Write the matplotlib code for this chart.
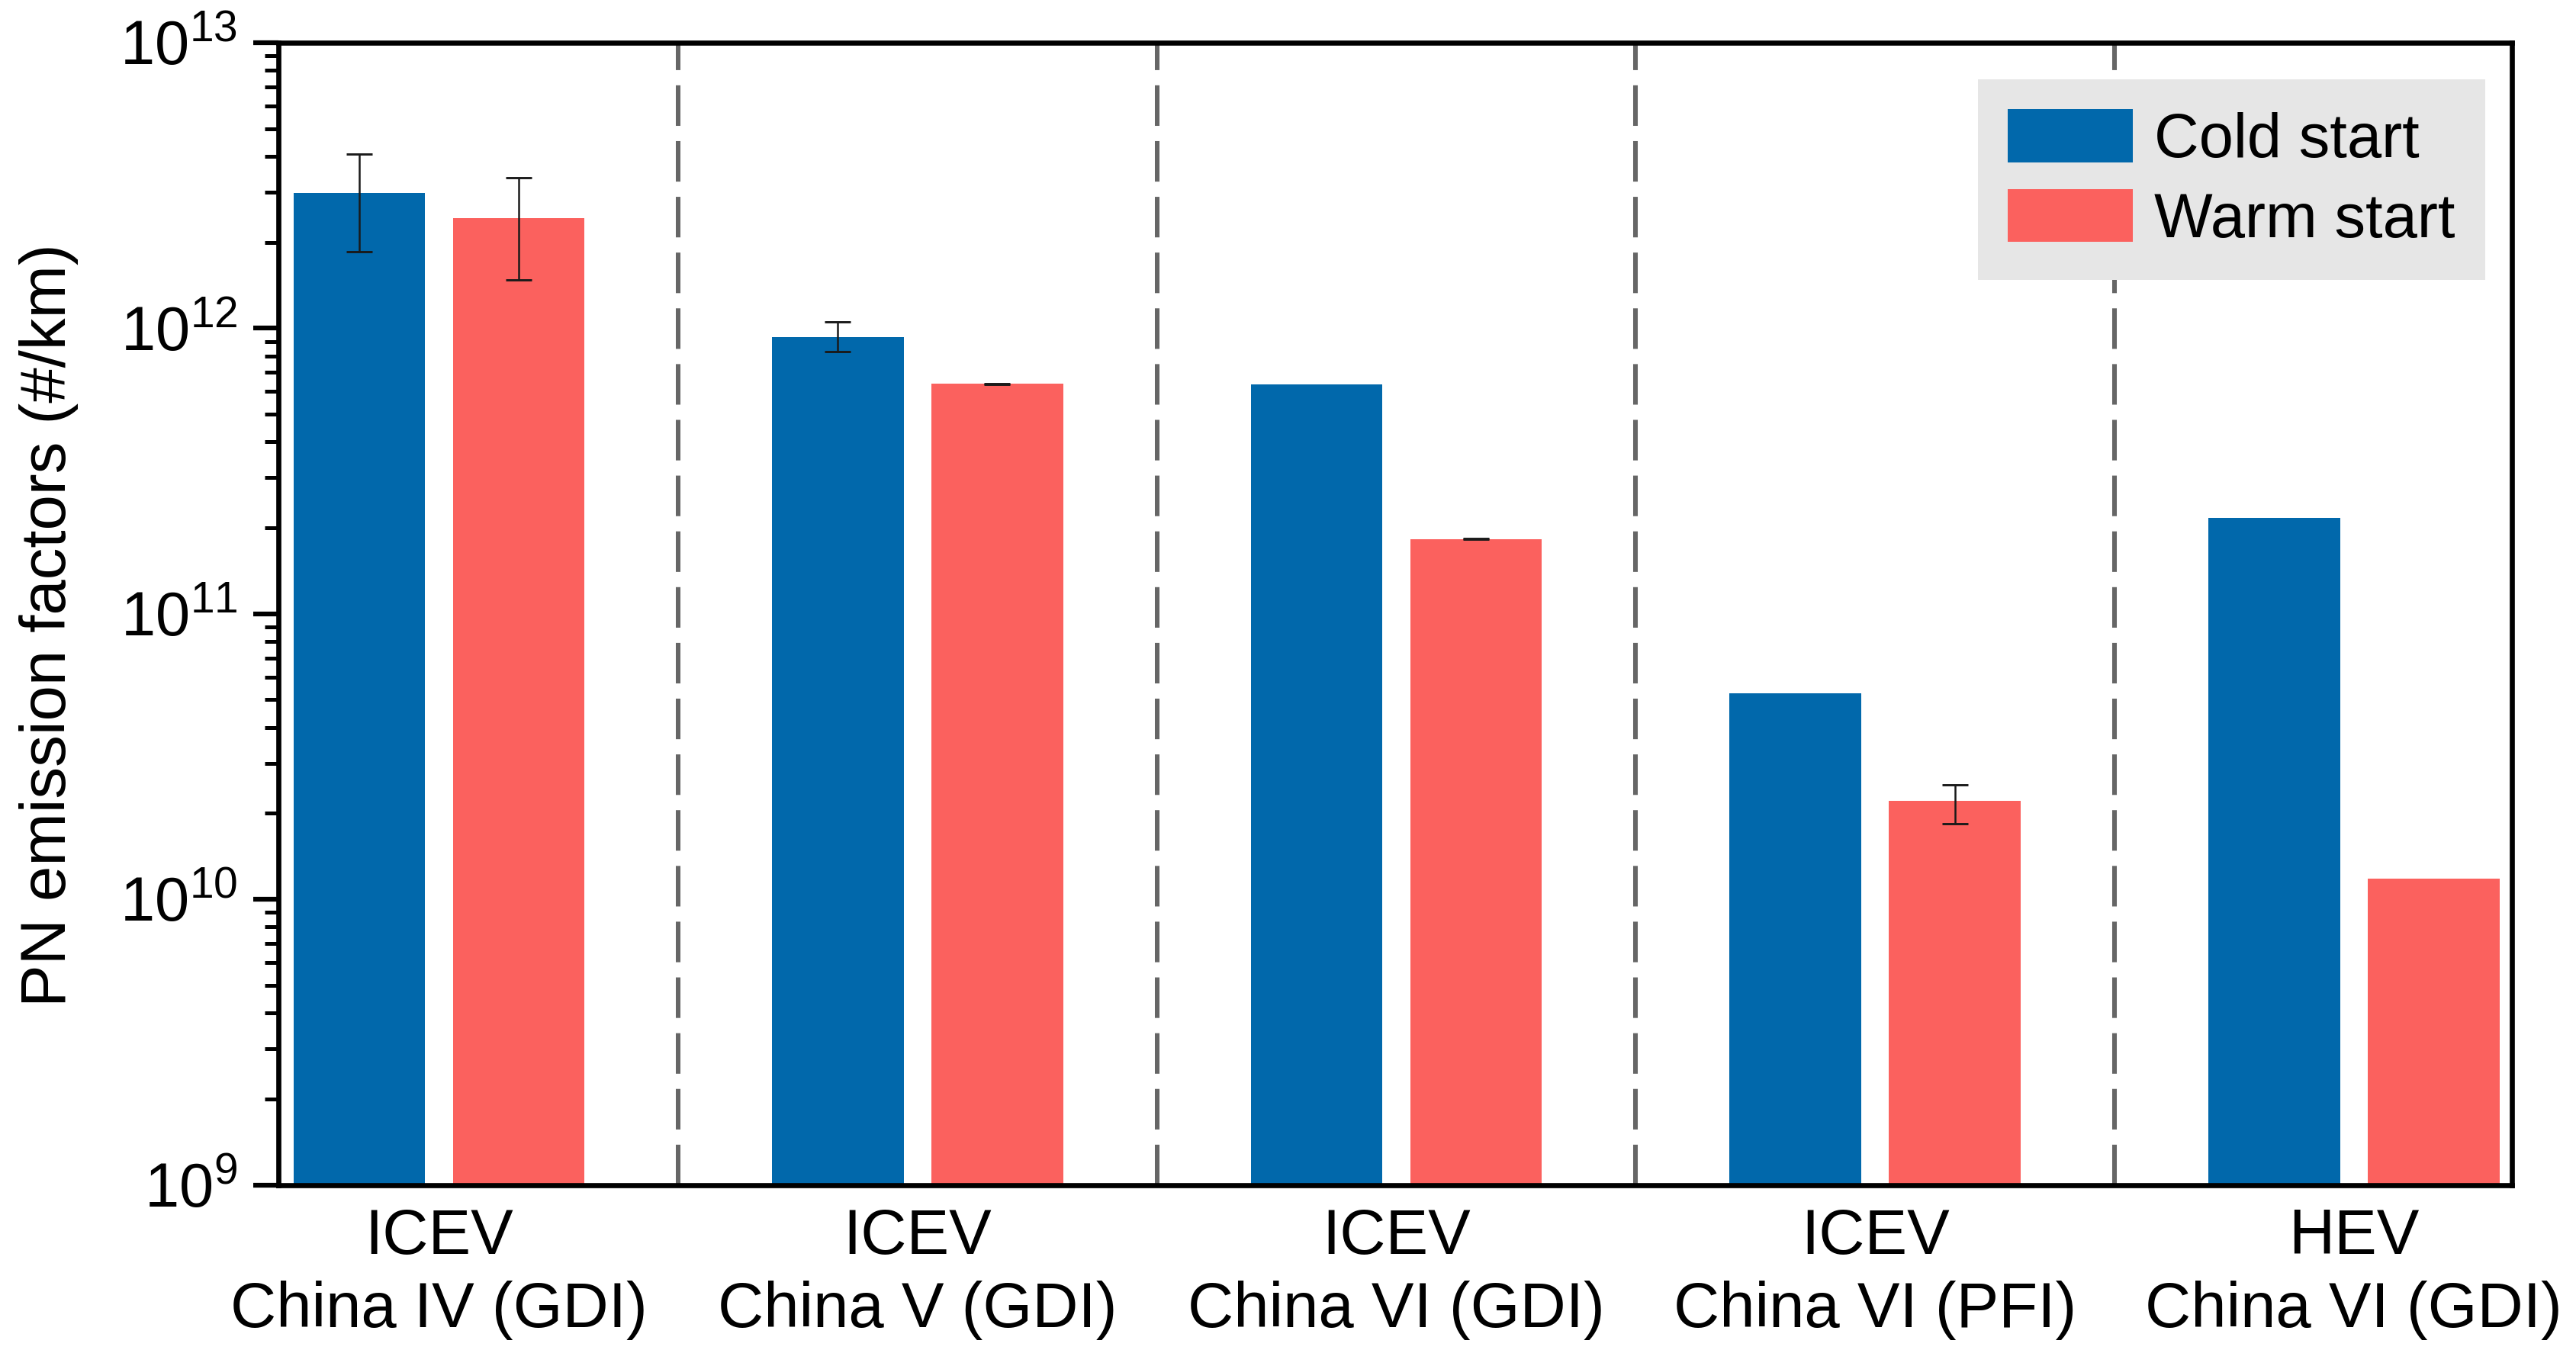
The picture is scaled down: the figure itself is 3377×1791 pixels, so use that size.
import numpy as np
import matplotlib
matplotlib.use("Agg")
import matplotlib.pyplot as plt

plt.rcParams.update(
    {
        "font.family": "Liberation Sans",
        "mathtext.fontset": "custom",
        "mathtext.rm": "Liberation Sans",
        "mathtext.it": "Liberation Sans:italic",
        "mathtext.default": "regular",
    }
)

# data
groups = [
    "ICEV\nChina IV (GDI)",
    "ICEV\nChina V (GDI)",
    "ICEV\nChina VI (GDI)",
    "ICEV\nChina VI (PFI)",
    "HEV\nChina VI (GDI)",
]
cold = [2.98e12, 9.33e11, 6.37e11, 5.27e10, 2.17e11]
warm = [2.43e12, 6.39e11, 1.83e11, 2.21e10, 1.18e10]

# error bar ends (None = no error bar)
cold_lo = [1.86e12, 8.28e11, None, None, None]
cold_hi = [4.07e12, 1.05e12, None, None, None]
warm_lo = [1.48e12, 6.37e11, 1.825e11, 1.84e10, None]
warm_hi = [3.36e12, 6.41e11, 1.835e11, 2.52e10, None]

c_cold = "#0168AB"
c_warm = "#FB615E"

fig = plt.figure(figsize=(3377 / 300, 1791 / 300), dpi=300)
ax = fig.add_axes([0.1081, 0.1326, 0.9751 - 0.1081, 0.9687 - 0.1326])
ax.set_yscale("log")

x = np.arange(len(groups))
w = 0.275
off = 0.1665

ax.bar(x - off, cold, w, color=c_cold, label="Cold start", zorder=2)
ax.bar(x + off, warm, w, color=c_warm, label="Warm start", zorder=2)


def add_err(xpos, vals, lo, hi):
    for xi, v, l, h in zip(xpos, vals, lo, hi):
        if l is None:
            continue
        ax.errorbar(xi, v, yerr=[[v - l], [h - v]], fmt="none",
                    ecolor="#1a1a1a", elinewidth=0.6, capsize=4, capthick=0.7,
                    zorder=3)


add_err(x - off, cold, cold_lo, cold_hi)
add_err(x + off, warm, warm_lo, warm_hi)

for xs in x[:-1] + 0.5:
    ax.axvline(xs, color="#666666", lw=1.45, dashes=(8.8, 3.3), zorder=1)

ax.set_xlim(-0.335, 4.33)
ax.set_ylim(1e9, 1e13)
ax.set_xticks(x)
ax.set_xticklabels(groups, fontsize=20, linespacing=1.3)
ax.tick_params(axis="x", length=0, pad=7)
ax.tick_params(axis="y", which="major", direction="out", length=7.9, width=1.5,
               labelsize=19.5, pad=5)
ax.tick_params(axis="y", which="minor", direction="out", length=4.3, width=1.2)
ax.yaxis.set_major_locator(matplotlib.ticker.LogLocator(base=10, numticks=10))

for s in ax.spines.values():
    s.set_linewidth(1.6)

ax.set_ylabel("PN emission factors (#/km)", fontsize=20)
ax.yaxis.set_label_coords(-0.0895, 0.49)

leg = ax.legend(loc="upper right", bbox_to_anchor=(0.988, 0.968),
                borderaxespad=0, fontsize=19.5, handlelength=2.02,
                handleheight=0.94, borderpad=0.48, labelspacing=0.31,
                handletextpad=0.35, fancybox=False, framealpha=1)
leg.get_frame().set_facecolor("#E6E6E6")
leg.get_frame().set_edgecolor("none")
leg.set_zorder(5)

fig.savefig("out.png", dpi=300)
